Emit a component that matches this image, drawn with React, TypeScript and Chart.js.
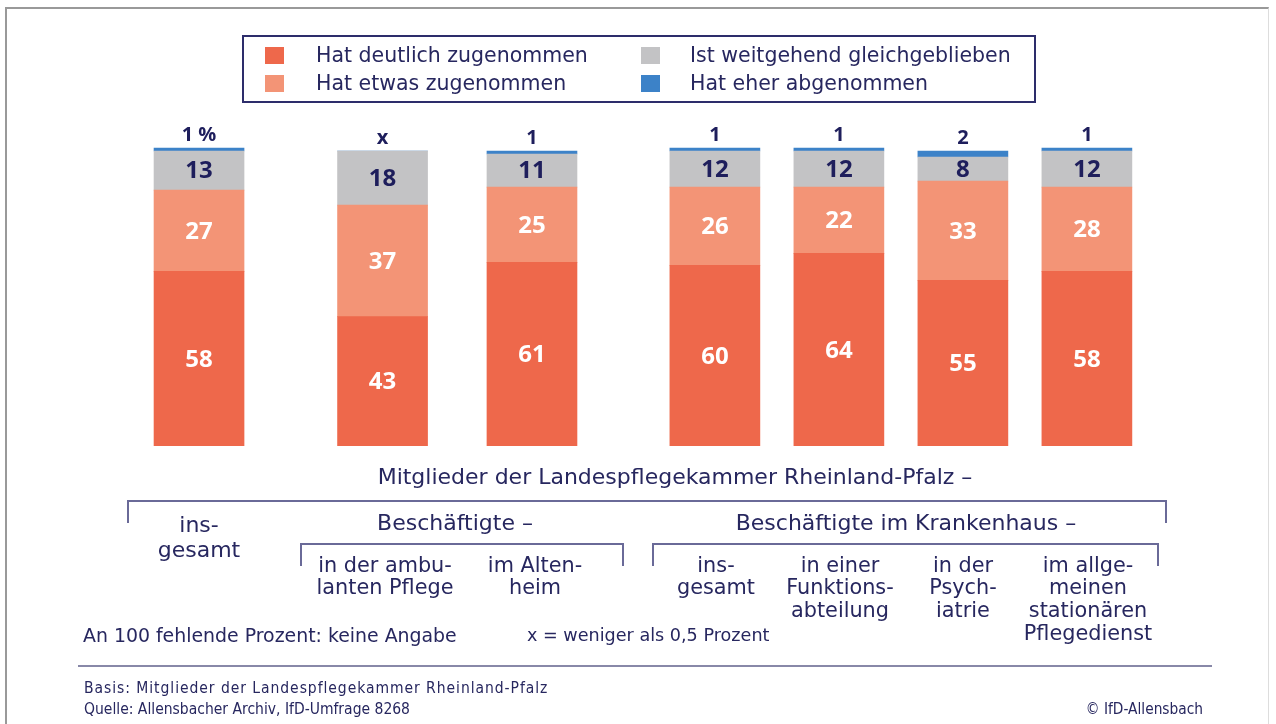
import React, { useEffect, useRef } from "react";
import { Chart, registerables } from "chart.js";

Chart.register(...registerables);

// ---------- data ----------
const categories = [
  "insgesamt",
  "Beschäftigte in der ambulanten Pflege",
  "Beschäftigte im Altenheim",
  "Krankenhaus insgesamt",
  "Krankenhaus Funktionsabteilung",
  "Krankenhaus Psychiatrie",
  "Krankenhaus allgemeiner stationärer Pflegedienst",
];
const seriesNames = [
  "Hat deutlich zugenommen",
  "Hat etwas zugenommen",
  "Ist weitgehend gleichgeblieben",
  "Hat eher abgenommen",
];
const deutlichZugenommen = [58, 43, 61, 60, 64, 55, 58];
const etwasZugenommen = [27, 37, 25, 26, 22, 33, 28];
const gleichGeblieben = [13, 18, 11, 12, 12, 8, 12];
const eherAbgenommen = [1, 0, 1, 1, 1, 2, 1];
const abgenommenLabels = ["1 %", "x", "1", "1", "1", "2", "1"];

// ---------- layout / style ----------
const slotPositions = [0, 1.48, 2.685, 4.16, 5.16, 6.16, 7.16];
const X_MIN = -1.605;
const X_MAX = 8.685;
const COLORS = ["#EE684B", "#F39476", "#C3C3C5", "#3C82C8"];
const NAVY = "#27275F";
const LINE = "#6A6A98";
const FONT = '"DejaVu Sans", sans-serif';
const NUM_FONT = '"Open Sans", sans-serif';
const SMALL_FONT = '"DejaVu Sans Condensed", "DejaVu Sans", sans-serif';

const valueLabelPlugin = {
  id: "valueLabels",
  afterDatasetsDraw(chart: any) {
    const ctx = chart.ctx;
    ctx.save();
    ctx.textAlign = "center";
    ctx.textBaseline = "middle";
    chart.data.datasets.forEach((ds: any, di: number) => {
      const meta = chart.getDatasetMeta(di);
      meta.data.forEach((bar: any, i: number) => {
        const p = bar.getProps(["x", "y", "base"], true);
        if (di < 3) {
          ctx.font = `bold 24px ${NUM_FONT}`;
          ctx.fillStyle = di === 2 ? "#1E1E5C" : "#FFFFFF";
          ctx.fillText(String(ds.data[i].y), p.x, (p.y + p.base) / 2 + 1);
        } else {
          ctx.font = `bold 20px ${NUM_FONT}`;
          ctx.fillStyle = "#1E1E5C";
          ctx.fillText(abgenommenLabels[i], p.x, Math.min(p.y, p.base) - 13);
        }
      });
    });
    ctx.restore();
  },
};

function Txt(props: {
  x: number;
  y: number;
  lines: string[];
  align?: "center" | "left" | "right";
  size?: number;
  lh?: number;
  family?: string;
  ls?: number;
}) {
  const { x, y, lines, align = "center", size = 22, lh = 23.5, family = FONT, ls = 0 } = props;
  const style: React.CSSProperties = {
    position: "absolute",
    top: y - lh / 2,
    fontSize: size,
    lineHeight: `${lh}px`,
    fontFamily: family,
    color: NAVY,
    whiteSpace: "nowrap",
    textAlign: align,
    letterSpacing: ls,
  };
  if (align === "center") {
    style.left = x;
    style.transform = "translateX(-50%)";
  } else if (align === "left") {
    style.left = x;
  } else {
    style.right = 1276 - x;
  }
  return (
    <div style={style}>
      {lines.map((l, i) => (
        <div key={i}>{l}</div>
      ))}
    </div>
  );
}

function Bracket(props: { x1: number; x2: number; y: number; h: number }) {
  const { x1, x2, y, h } = props;
  return (
    <div
      style={{
        position: "absolute",
        left: x1,
        top: y,
        width: x2 - x1,
        height: h,
        borderTop: `2px solid ${LINE}`,
        borderLeft: `2px solid ${LINE}`,
        borderRight: `2px solid ${LINE}`,
        boxSizing: "border-box",
      }}
    />
  );
}

export default function App() {
  const ref = useRef<HTMLCanvasElement | null>(null);

  useEffect(() => {
    if (!ref.current) return;
    const seriesValues = [deutlichZugenommen, etwasZugenommen, gleichGeblieben, eherAbgenommen];
    const chart = new Chart(ref.current, {
      type: "bar",
      data: {
        labels: categories,
        datasets: seriesValues.map((vals, si) => ({
          label: seriesNames[si],
          data: vals.map((v, i) => ({ x: slotPositions[i], y: v })),
          backgroundColor: COLORS[si],
          borderWidth: 0,
          barThickness: 90,
        })),
      } as any,
      options: {
        animation: false,
        responsive: false,
        maintainAspectRatio: false,
        layout: { padding: { top: 145, bottom: 278, left: 0, right: 0 } },
        plugins: { legend: { display: false }, tooltip: { enabled: false } },
        scales: {
          x: {
            type: "linear",
            min: X_MIN,
            max: X_MAX,
            offset: false,
            stacked: true,
            display: false,
            grid: { offset: false },
          },
          y: { min: 0, max: 100, stacked: true, display: false },
        },
      } as any,
      plugins: [valueLabelPlugin],
    });
    return () => chart.destroy();
  }, []);

  const legendItems = [
    { si: 0, sx: 265, tx: 316, y: 56 },
    { si: 1, sx: 265, tx: 316, y: 84 },
    { si: 2, sx: 641, tx: 690, y: 56 },
    { si: 3, sx: 641, tx: 690, y: 84 },
  ];

  const SUB = 20.8;
  const SUB_LH = 22.7;

  return (
    <div
      style={{
        position: "fixed",
        left: 0,
        top: 0,
        width: 1276,
        height: 724,
        background: "#fff",
        overflow: "hidden",
        fontFamily: FONT,
      }}
    >
      <div
        style={{
          position: "absolute",
          left: 5,
          top: 7,
          width: 1264,
          height: 760,
          borderTop: "2px solid #999",
          borderLeft: "2px solid #999",
          borderRight: "1px solid #ddd",
          boxSizing: "border-box",
        }}
      />
      <canvas ref={ref} width={1276} height={724} style={{ position: "absolute", left: 0, top: 0 }} />

      {/* legend */}
      <div
        style={{
          position: "absolute",
          left: 242,
          top: 35,
          width: 794,
          height: 68,
          border: "2px solid #2D2D6B",
          boxSizing: "border-box",
        }}
      />
      {legendItems.map((it) => (
        <React.Fragment key={it.si}>
          <div
            style={{
              position: "absolute",
              left: it.sx,
              top: it.y - 9,
              width: 19,
              height: 17,
              background: COLORS[it.si],
            }}
          />
          <Txt x={it.tx} y={it.y} lines={[seriesNames[it.si]]} align="left" size={20.5} />
        </React.Fragment>
      ))}

      {/* group labels */}
      <Txt x={675} y={477} lines={["Mitglieder der Landespflegekammer Rheinland-Pfalz –"]} />
      <Bracket x1={127} x2={1167} y={500} h={23} />
      <Txt x={199} y={524} lines={["ins-", "gesamt"]} lh={25} />
      <Txt x={455} y={523} lines={["Beschäftigte –"]} />
      <Txt x={906} y={523} lines={["Beschäftigte im Krankenhaus –"]} />
      <Bracket x1={300} x2={624} y={543} h={23} />
      <Bracket x1={652} x2={1159} y={543} h={23} />
      <Txt x={385} y={565} lines={["in der ambu-", "lanten Pflege"]} size={SUB} lh={SUB_LH} />
      <Txt x={535} y={565} lines={["im Alten-", "heim"]} size={SUB} lh={SUB_LH} />
      <Txt x={716} y={565} lines={["ins-", "gesamt"]} size={SUB} lh={SUB_LH} />
      <Txt x={840} y={565} lines={["in einer", "Funktions-", "abteilung"]} size={SUB} lh={SUB_LH} />
      <Txt x={963} y={565} lines={["in der", "Psych-", "iatrie"]} size={SUB} lh={SUB_LH} />
      <Txt
        x={1088}
        y={565}
        lines={["im allge-", "meinen", "stationären", "Pflegedienst"]}
        size={SUB}
        lh={SUB_LH}
      />

      <Txt x={83} y={636} lines={["An 100 fehlende Prozent: keine Angabe"]} align="left" size={18.9} />
      <Txt x={527} y={636} lines={["x = weniger als 0,5 Prozent"]} align="left" size={17.6} />

      <div
        style={{
          position: "absolute",
          left: 78,
          top: 665,
          width: 1134,
          height: 2,
          background: "#8888A8",
        }}
      />
      <Txt
        x={84}
        y={689}
        lines={["Basis: Mitglieder der Landespflegekammer Rheinland-Pfalz"]}
        align="left"
        size={15.5}
        ls={0.95}
        family={SMALL_FONT}
      />
      <Txt
        x={84}
        y={710}
        lines={["Quelle: Allensbacher Archiv, IfD-Umfrage 8268"]}
        align="left"
        size={15.5}
        family={SMALL_FONT}
      />
      <Txt
        x={1203}
        y={710}
        lines={["© IfD-Allensbach"]}
        align="right"
        size={15.3}
        family={SMALL_FONT}
      />
    </div>
  );
}
